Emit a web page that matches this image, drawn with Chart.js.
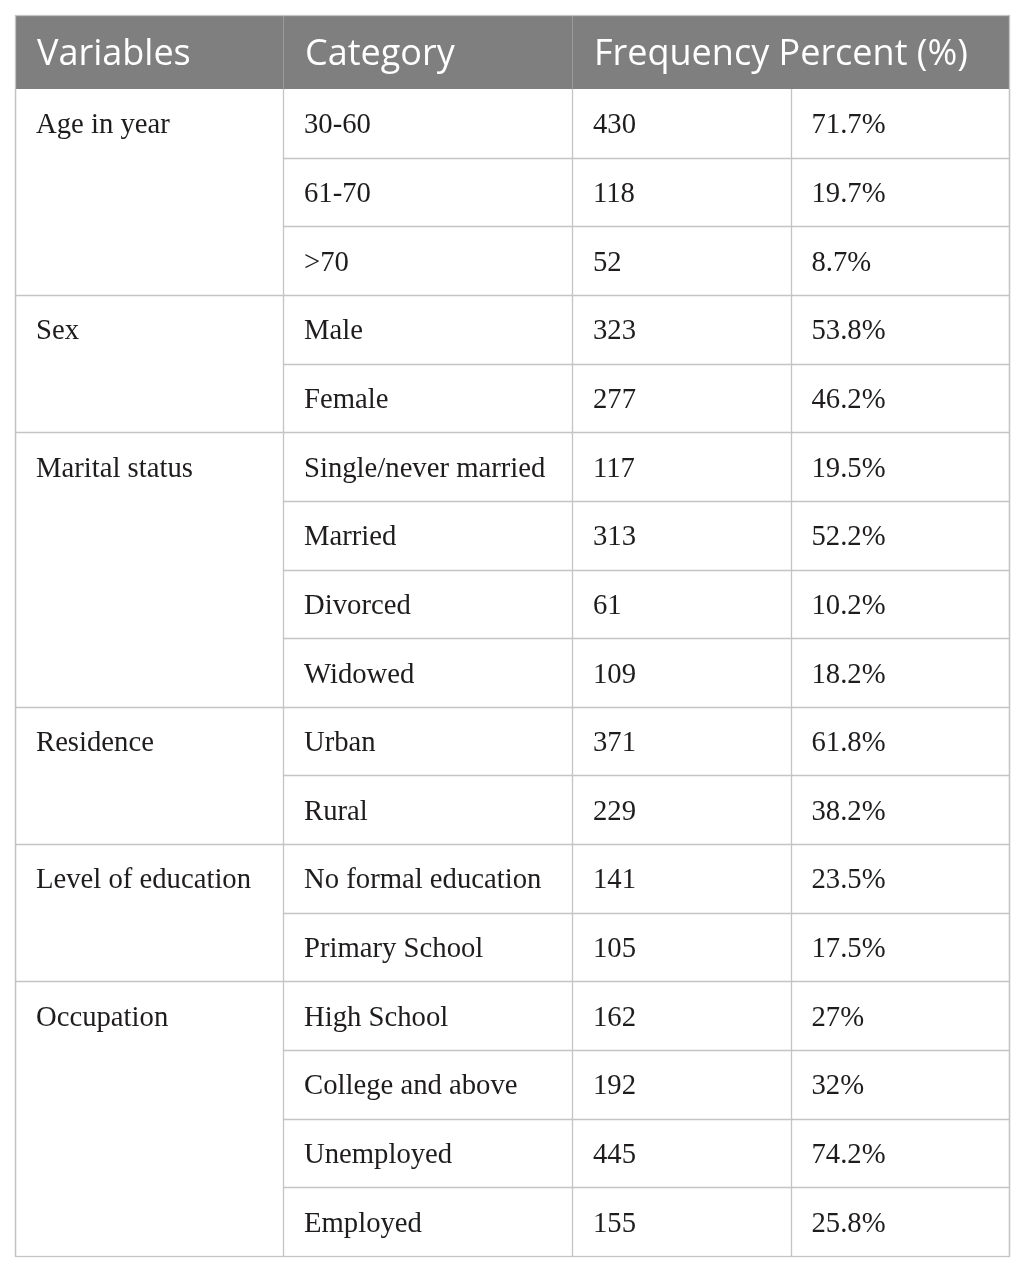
<!DOCTYPE html>
<html>
<head>
<meta charset="utf-8">
<script src="https://cdn.jsdelivr.net/npm/chart.js@4/dist/chart.umd.min.js"></script>
<style>
html,body{margin:0;padding:0;background:#fff;}
#wrap{width:1025px;height:1272px;position:relative;}
</style>
</head>
<body>
<div id="wrap"><canvas id="c"></canvas></div>
<script>
// ---- data ----
const headers = ["Variables", "Category", "Frequency Percent (%)"];
const variables = ["Age in year", "Sex", "Marital status", "Residence", "Level of education", "Occupation"];
const groupSizes = [3, 2, 4, 2, 2, 4];
const categories = ["30-60", "61-70", ">70", "Male", "Female", "Single/never married", "Married", "Divorced", "Widowed", "Urban", "Rural", "No formal education", "Primary School", "High School", "College and above", "Unemployed", "Employed"];
const frequencies = [430, 118, 52, 323, 277, 117, 313, 61, 109, 371, 229, 141, 105, 162, 192, 445, 155];
const percents = ["71.7%", "19.7%", "8.7%", "53.8%", "46.2%", "19.5%", "52.2%", "10.2%", "18.2%", "61.8%", "38.2%", "23.5%", "17.5%", "27%", "32%", "74.2%", "25.8%"];

// ---- layout (scale units) ----
const TABLE_W = 994, TABLE_H = 1241;
const colEdges = [0, 268, 557, 775.5, 994];
const HEADER_H = 74;
const ROW_H = (TABLE_H - HEADER_H) / categories.length;
const PAD_X = 21;

const tablePlugin = {
  id: 'tablePlugin',
  afterDraw(chart) {
    const ctx = chart.ctx;
    const xs = chart.scales.x, ys = chart.scales.y;
    const X = v => xs.getPixelForValue(v);
    const Y = v => ys.getPixelForValue(v);
    const rowTop = i => HEADER_H + i * ROW_H;
    ctx.save();
    // header background
    ctx.fillStyle = '#7f7f7f';
    ctx.fillRect(X(0), Y(0), X(TABLE_W) - X(0), Y(HEADER_H) - Y(0));
    // header separators
    ctx.strokeStyle = '#9a9a9a';
    ctx.lineWidth = 1;
    [1, 2].forEach(c => {
      const x = Math.round(X(colEdges[c])) + 0.5;
      ctx.beginPath(); ctx.moveTo(x, Y(0)); ctx.lineTo(x, Y(HEADER_H)); ctx.stroke();
    });
    // header text
    ctx.fillStyle = '#ffffff';
    ctx.font = '36px "Open Sans"';
    ctx.textBaseline = 'alphabetic';
    ctx.textAlign = 'left';
    const hBase = Y(HEADER_H / 2) + 13;
    ctx.fillText(headers[0], X(colEdges[0]) + 22, hBase);
    ctx.fillText(headers[1], X(colEdges[1]) + 22, hBase);
    ctx.fillText(headers[2], X(colEdges[2]) + 22, hBase);

    // grid lines
    ctx.strokeStyle = '#c4c4c4';
    ctx.lineWidth = 1.3;
    for (let i = 1; i < categories.length; i++) {
      const y = Math.round(Y(rowTop(i))) + 0.5;
      ctx.beginPath(); ctx.moveTo(X(colEdges[1]), y); ctx.lineTo(X(TABLE_W), y); ctx.stroke();
    }
    let acc = 0;
    groupSizes.forEach((g, gi) => {
      if (gi > 0) {
        const y = Math.round(Y(rowTop(acc))) + 0.5;
        ctx.beginPath(); ctx.moveTo(X(0), y); ctx.lineTo(X(colEdges[1]), y); ctx.stroke();
      }
      acc += g;
    });
    colEdges.forEach(cx => {
      const x = Math.round(X(cx)) + 0.5;
      ctx.beginPath(); ctx.moveTo(x, Y(HEADER_H)); ctx.lineTo(x, Y(TABLE_H)); ctx.stroke();
    });
    ctx.strokeRect(Math.round(X(0)) + 0.5, Math.round(Y(0)) + 0.5, Math.round(X(TABLE_W) - X(0)), Math.round(Y(TABLE_H) - Y(0)));

    // body text
    ctx.fillStyle = '#1f1c1d';
    ctx.font = '28.7px "Liberation Serif"';
    const base = i => Y(rowTop(i) + ROW_H / 2) + 10;
    categories.forEach((cat, i) => {
      ctx.fillText(cat, X(colEdges[1]) + PAD_X, base(i));
      ctx.fillText(String(frequencies[i]), X(colEdges[2]) + PAD_X, base(i));
      ctx.fillText(percents[i], X(colEdges[3]) + PAD_X, base(i));
    });
    acc = 0;
    variables.forEach((v, gi) => {
      ctx.fillText(v, X(colEdges[0]) + PAD_X, base(acc));
      acc += groupSizes[gi];
    });
    ctx.restore();
  }
};

new Chart(document.getElementById('c'), {
  type: 'scatter',
  data: { datasets: [{ data: categories.map((c, i) => ({ x: colEdges[1], y: HEADER_H + i * ROW_H })), pointRadius: 0 }] },
  options: {
    responsive: true,
    maintainAspectRatio: false,
    animation: false,
    events: [],
    layout: { padding: { left: 15, top: 15, right: 16, bottom: 16 } },
    plugins: { legend: { display: false }, tooltip: { enabled: false } },
    scales: {
      x: { type: 'linear', min: 0, max: TABLE_W, display: false },
      y: { type: 'linear', min: 0, max: TABLE_H, reverse: true, display: false }
    }
  },
  plugins: [tablePlugin]
});
</script>
</body>
</html>
